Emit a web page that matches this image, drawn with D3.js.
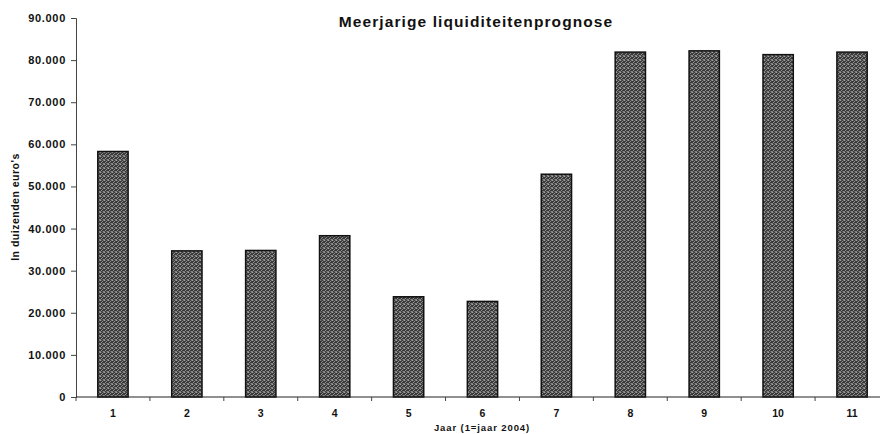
<!DOCTYPE html>
<html>
<head>
<meta charset="utf-8">
<script src="https://cdn.jsdelivr.net/npm/d3@7"></script>
<style>
  html, body { margin: 0; padding: 0; background: #fff; }
  svg { display: block; }
  text { font-family: "Liberation Sans", Arial, sans-serif; fill: #111; }
</style>
</head>
<body>
<div id="chart"></div>
<script>
const title = "Meerjarige liquiditeitenprognose";
const yAxisTitle = "In duizenden euro's";
const xAxisTitle = "Jaar (1=jaar 2004)";
const categories = ["1", "2", "3", "4", "5", "6", "7", "8", "9", "10", "11"];
const values = [58300, 34700, 34800, 38300, 23800, 22700, 52900, 81900, 82200, 81300, 81900];
const yTicks = [0, 10000, 20000, 30000, 40000, 50000, 60000, 70000, 80000, 90000];

const W = 880, H = 434;
const mLeft = 76, mRight = 889, mTop = 18, mBottom = 397;

const svg = d3.select("#chart").append("svg").attr("width", W).attr("height", H);

// halftone-like stipple pattern (fixed dot layout)
const dots = [[0,0,"#a0a0a0"],[2,1,"#8c8c8c"],[1,2,"#969696"],[3,3,"#888"],[3,0,"#777"],[0,3,"#7e7e7e"],[2,3,"#5a5a5a"],[1,0,"#555"]];
const defs = svg.append("defs");
const pat = defs.append("pattern").attr("id", "stip").attr("patternUnits", "userSpaceOnUse")
  .attr("width", 4).attr("height", 4);
pat.append("rect").attr("width", 4).attr("height", 4).attr("fill", "#3a3a3a");
pat.selectAll("rect.d").data(dots).join("rect").attr("class", "d")
  .attr("x", d => d[0]).attr("y", d => d[1]).attr("width", 1).attr("height", 1).attr("fill", d => d[2]);

const x = d3.scaleBand().domain(categories).range([mLeft, mRight]).paddingInner(0.59).paddingOuter(0.295);
const xTicksScale = d3.scaleBand().domain(categories).range([mLeft, mRight]);
const y = d3.scaleLinear().domain([0, 90000]).range([mBottom, mTop]);

const fmt = v => d3.format(",")(v).replace(/,/g, ".");

// bars
svg.append("g").selectAll("rect").data(values).join("rect")
  .attr("x", (d, i) => x(categories[i]))
  .attr("y", d => y(d))
  .attr("width", x.bandwidth())
  .attr("height", d => y(0) - y(d))
  .attr("fill", "url(#stip)")
  .attr("stroke", "#111")
  .attr("stroke-width", 1.5);

// y axis
const yAxis = svg.append("g").attr("transform", `translate(${mLeft},0)`)
  .call(d3.axisLeft(y).tickValues(yTicks).tickFormat(fmt).tickSize(5).tickPadding(5));
yAxis.select(".domain").attr("stroke", "#444").attr("stroke-width", 1);
yAxis.selectAll(".tick line").attr("stroke", "#444");
yAxis.selectAll(".tick text").attr("font-size", 11).attr("font-weight", "bold")
  .attr("letter-spacing", 0.7).attr("fill", "#111")
  .style("font-family", "'Liberation Sans', Arial, sans-serif");

// x axis
const xAxisG = svg.append("g").attr("transform", `translate(0,${mBottom})`);
xAxisG.append("line").attr("x1", mLeft).attr("x2", mRight).attr("y1", 0).attr("y2", 0)
  .attr("stroke", "#222").attr("stroke-width", 1.2);
xAxisG.selectAll("line.tk").data(categories).join("line").attr("class", "tk")
  .attr("x1", d => xTicksScale(d)).attr("x2", d => xTicksScale(d))
  .attr("y1", 0).attr("y2", 4).attr("stroke", "#444");
xAxisG.selectAll("text").data(categories).join("text")
  .attr("x", d => xTicksScale(d) + xTicksScale.bandwidth() / 2)
  .attr("y", 20)
  .attr("text-anchor", "middle")
  .attr("font-size", 10.5).attr("font-weight", "bold")
  .text(d => d);

// title
svg.append("text").attr("x", 476).attr("y", 27).attr("text-anchor", "middle")
  .attr("font-size", 15.5).attr("font-weight", "bold").attr("letter-spacing", 1.1)
  .text(title);

// y axis title
svg.append("text").attr("transform", "translate(19,207) rotate(-90)")
  .attr("text-anchor", "middle").attr("font-size", 10.5).attr("font-weight", "bold")
  .attr("letter-spacing", 0.5)
  .text(yAxisTitle);

// x axis title
svg.append("text").attr("x", 482).attr("y", 431).attr("text-anchor", "middle")
  .attr("font-size", 9.5).attr("font-weight", "bold").attr("letter-spacing", 0.9)
  .text(xAxisTitle);
</script>
</body>
</html>
